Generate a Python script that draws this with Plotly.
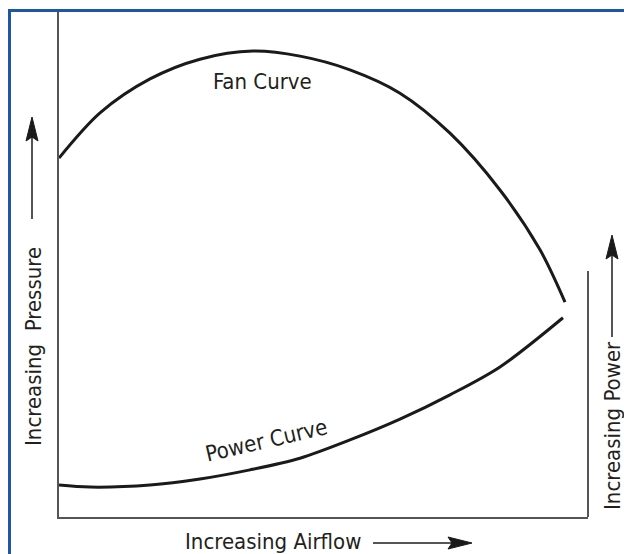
import plotly.graph_objects as go

# Fan curve and power curve, airflow 0-100 vs relative pressure / power 0-100
fan_airflow = [0, 7.75, 17.2, 26.65, 36.67, 45.56, 55.0, 64.46, 73.91, 83.36, 90.93, 95.65]
fan_pressure = [70.8, 79.7, 86.4, 90.3, 91.9, 90.9, 88.2, 83.6, 75.7, 64.5, 52.7, 42.4]

power_airflow = [0, 5.86, 17.2, 26.65, 36.1, 45.56, 55.0, 64.46, 73.91, 83.36, 95.27]
power_level = [6.3, 5.9, 6.3, 7.5, 9.3, 11.6, 15.2, 19.3, 24.1, 29.6, 39.3]

OFF = 8  # page body margin; figure sits 8px in from the window corner
W, H = 624 - OFF, 554 - OFF
L, R, T, B = 59, 588, 10, 517  # plot box in window pixels

FONT = "Liberation Sans Narrow, Arial Narrow, DejaVu Sans Condensed, sans-serif"
TXT = "#231f20"
AXIS = "#555555"
BLUE = "#1b57a3"


def px(x):
    return (x - L) / (R - L)


def py(y):
    return (B - y) / (B - T)


fig = go.Figure()
fig.add_trace(go.Scatter(
    x=fan_airflow, y=fan_pressure, mode="lines",
    line=dict(color="#1a1a1a", width=3, shape="spline", smoothing=0.9),
    hoverinfo="skip",
))
fig.add_trace(go.Scatter(
    x=power_airflow, y=power_level, mode="lines",
    line=dict(color="#1a1a1a", width=3, shape="spline", smoothing=0.9),
    hoverinfo="skip",
))

shapes = [
    # blue frame (top and left edges)
    dict(type="line", xref="paper", yref="paper", x0=px(9), x1=px(630), y0=py(10.5), y1=py(10.5),
         line=dict(color=BLUE, width=3)),
    dict(type="line", xref="paper", yref="paper", x0=px(9.5), x1=px(9.5), y0=py(9), y1=py(560),
         line=dict(color=BLUE, width=3)),
    # right power axis
    dict(type="line", xref="paper", yref="paper", x0=px(588), x1=px(588), y0=py(271), y1=py(517),
         line=dict(color=AXIS, width=2)),
    # arrow shafts
    dict(type="line", xref="paper", yref="paper", x0=px(32), x1=px(32), y0=py(219), y1=py(135),
         line=dict(color=AXIS, width=2)),
    dict(type="line", xref="paper", yref="paper", x0=px(612), x1=px(612), y0=py(337), y1=py(253),
         line=dict(color=AXIS, width=2)),
    dict(type="line", xref="paper", yref="paper", x0=px(373), x1=px(455), y0=py(543), y1=py(543),
         line=dict(color=AXIS, width=2)),
]


def head(tip, direction):
    x, y = tip
    if direction == "up":
        pts = [(x, y), (x - 6, y + 24), (x, y + 20), (x + 6, y + 24)]
    else:
        pts = [(x, y), (x - 24, y - 6), (x - 20, y), (x - 24, y + 6)]
    d = "M " + " L ".join(f"{px(a)},{py(b)}" for a, b in pts) + " Z"
    return dict(type="path", xref="paper", yref="paper", path=d,
                fillcolor="#1a1a1a", line=dict(color="#1a1a1a", width=1))


shapes += [head((32, 117), "up"), head((612, 235), "up"), head((472, 543), "right")]

NB = "\u00a0"
annotations = [
    dict(text="Fan Curve", x=px(262), y=py(82)),
    dict(text="Power Curve", x=px(266), y=py(440), textangle=-13),
    dict(text="Increasing Airflow", x=px(273), y=py(541)),
    dict(text="Increasing" + NB + " Pressure", x=px(33), y=py(347), textangle=-90),
    dict(text="Increasing Power", x=px(612), y=py(426), textangle=-90),
]
for a in annotations:
    a.update(xref="paper", yref="paper", showarrow=False,
             xanchor="center", yanchor="middle",
             font=dict(family=FONT, size=22, color=TXT))

fig.update_layout(
    width=W, height=H,
    margin=dict(l=L - OFF, r=624 - R, t=T - OFF, b=554 - B),
    paper_bgcolor="white", plot_bgcolor="white",
    showlegend=False,
    shapes=shapes,
    annotations=annotations,
)
fig.update_xaxes(range=[0, 100], showgrid=False, zeroline=False, showticklabels=False,
                 showline=True, linecolor=AXIS, linewidth=2, ticks="")
fig.update_yaxes(range=[0, 100], showgrid=False, zeroline=False, showticklabels=False,
                 showline=True, linecolor=AXIS, linewidth=2, ticks="")

# keep the 8px top/left page margin but drop the right/bottom one so nothing overflows
fig.write_html(
    "out.html",
    post_script="document.body.style.margin='8px 0 0 8px';"
                "document.documentElement.style.overflow='hidden';",
)
